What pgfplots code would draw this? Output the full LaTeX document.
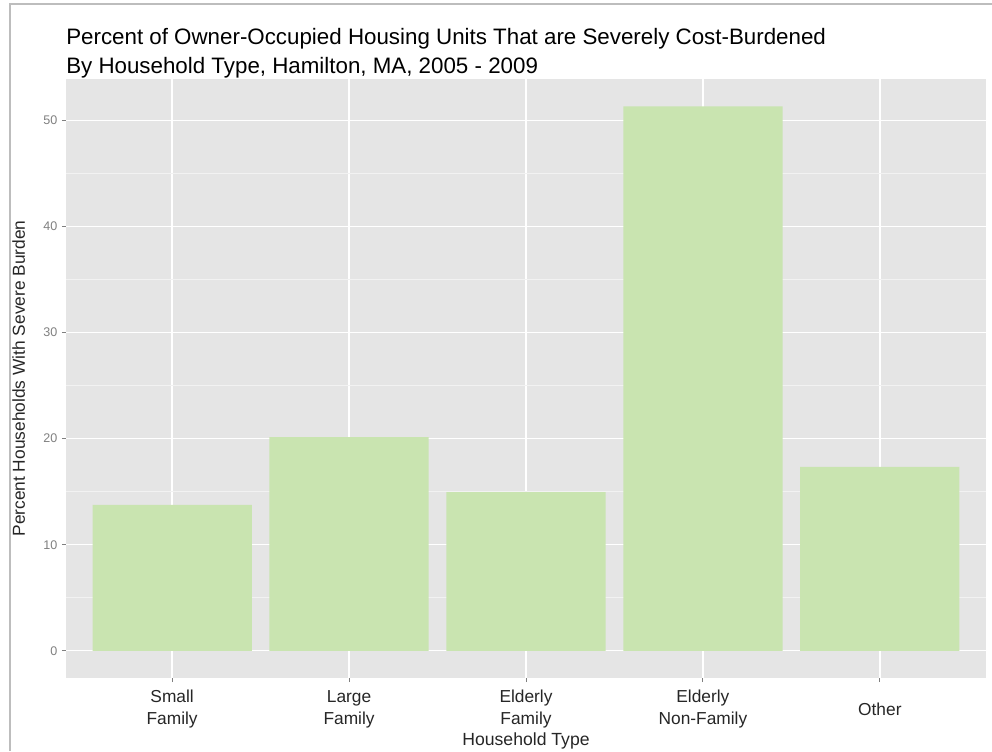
\documentclass[border=0pt]{standalone}
\usepackage{pgfplots}
\pgfplotsset{compat=1.18}
\usepackage{fontspec}
\setmainfont{Liberation Sans}
\definecolor{panel}{HTML}{E5E5E5}
\definecolor{barfill}{RGB}{201,228,176}
\definecolor{minorgrid}{HTML}{F2F2F2}
\definecolor{tickgray}{HTML}{7F7F7F}
\definecolor{framegray}{HTML}{BDBDBD}
\begin{document}
\begin{tikzpicture}[x=1pt,y=1pt]
\begin{axis}[
  at={(0,0)}, anchor=south west,
  scale only axis, width=690pt, height=449.25pt,
  xmin=0.4, xmax=5.6, ymin=-2.57, ymax=53.92,
  axis background/.style={fill=panel},
  axis line style={draw=none},
  xtick={1,2,3,4,5},
  xticklabels={{Small\\Family},{Large\\Family},{Elderly\\Family},{Elderly\\Non-Family},{Other}},
  ytick={0,10,20,30,40,50},
  minor ytick={5,15,25,35,45},
  grid=both,
  major grid style={white, line width=1.1pt},
  minor grid style={minorgrid, line width=0.6pt},
  tick align=outside, tick pos=left,
  major tick length=3pt, minor tick length=0pt,
  tick style={tickgray, line width=0.75pt},
  /pgf/number format/assume math mode=true,
  yticklabel style={font=\fontsize{9.4}{11}\selectfont, text=tickgray, anchor=east, xshift=0pt},
  xticklabel style={font=\fontsize{13}{16.5}\selectfont, align=center, anchor=center, yshift=-20.5pt, text=black!85},
  clip=false,
]
\addplot[ybar, bar width=0.9, fill=barfill, draw=none] coordinates {
  (1,13.75) (2,20.15) (3,14.97) (4,51.35) (5,17.33)
};
\end{axis}
\node[anchor=base west, font=\fontsize{16.75}{19}\selectfont, inner sep=0pt] at (0,474.75) {Percent of Owner-Occupied Housing Units That are Severely Cost-Burdened};
\node[anchor=base west, font=\fontsize{16.75}{19}\selectfont, inner sep=0pt] at (0,453) {By Household Type, Hamilton, MA, 2005 - 2009};
\node[anchor=base, font=\fontsize{13.2}{15}\selectfont, inner sep=0pt, text=black!85] at (345,-50.25) {Household Type};
\node[anchor=base, rotate=90, font=\fontsize{13}{15}\selectfont, inner sep=0pt, text=black!85] at (-30.75,224.6) {Percent Households With Severe Burden};
\draw[framegray, line width=1.1pt] (-42,-54.75) -- (-42,505.5) -- (694.5,505.5);
\pgfresetboundingbox
\useasboundingbox (-49.5,-54.75) rectangle (694.5,508.5);
\end{tikzpicture}
\end{document}
